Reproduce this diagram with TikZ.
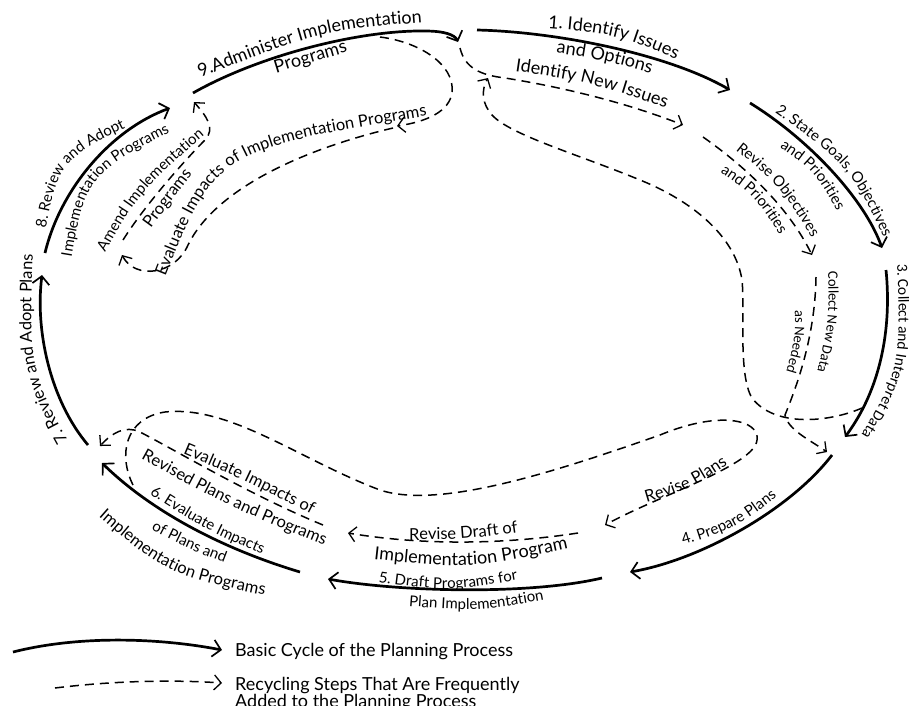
\documentclass[tikz,border=0pt]{standalone}
\usepackage{fontspec}
\setmainfont{Lato}
\newfontfamily\narrowfont{Carlito}
\usetikzlibrary{arrows.meta,calc,decorations.text}
\def\lblsmall{\fontsize{15}{15}\selectfont}
\def\lbl{\fontsize{16.5}{16.5}\selectfont}
\def\lblbig{\fontsize{18}{18}\selectfont}
\def\lblnarrow{\narrowfont\fontsize{14.5}{14.5}\selectfont}
\def\curvetext[#1](#2)(#3)(#4)#5{\path[decorate,decoration={text along path,text align=center,text={|#1|#5}}] ($(#2)!-20pt!(#3)$) .. controls (#3) .. ($(#4)!-20pt!(#3)$);}

\begin{document}
\begin{tikzpicture}[x=1pt,y=-1pt,
		basicarc/.style={line width=2.7pt,-{Straight Barb[length=8pt,width=17pt,line width=1.7pt]}},
		recyclearc/.style={line width=1.5pt,dash pattern=on 9pt off 6pt,-{Straight Barb[length=7pt,width=15pt,line width=1.3pt]}}]
	%%%%% START %%%%%
	\fill[white] (0,0) rectangle (909,705);
	\useasboundingbox (0,0) rectangle (909,705);

	% basic cycle
	\draw[basicarc] (193,93) .. controls (260,55) and (360,30) .. (425,31) .. controls (445,31) and (455,35) .. (458,42);
	\draw[basicarc] (477,30) .. controls (560,32) and (670,55) .. (730,90);
	\draw[basicarc] (750,103) .. controls (810,140) and (865,200) .. (882,248);
	\draw[basicarc] (886,270) .. controls (892,330) and (880,390) .. (845,437);
	\draw[basicarc] (832,455) .. controls (790,510) and (700,560) .. (630,572);
	\draw[basicarc] (602,578) .. controls (530,595) and (400,592) .. (328,579);
	\draw[basicarc] (300,572) .. controls (220,548) and (150,510) .. (102,463);
	\draw[basicarc] (88,445) .. controls (50,400) and (35,330) .. (42,275);
	\draw[basicarc] (45,253) .. controls (60,190) and (110,130) .. (170,108);

	% recycling steps
	\draw[recyclearc] (460,48) .. controls (465,68) and (480,75) .. (505,78) .. controls (580,90) and (640,108) .. (683,125);
	\draw[recyclearc] (703,137) .. controls (750,170) and (790,210) .. (812,255);
	\draw[recyclearc] (816,277) .. controls (815,340) and (795,390) .. (785,415) .. controls (788,430) and (810,440) .. (827,452);
	\draw[recyclearc] (862,408) .. controls (830,422) and (775,428) .. (752,398) .. controls (738,375) and (745,310) .. (742,280) .. controls (735,235) and (690,200) .. (640,180) .. controls (580,155) and (510,135) .. (492,115) .. controls (482,104) and (481,90) .. (488,78);
	\draw[recyclearc] (380,37) .. controls (420,42) and (455,65) .. (452,92) .. controls (450,112) and (425,122) .. (397,126);
	\draw[recyclearc] (393,128) .. controls (300,150) and (215,190) .. (188,245) .. controls (175,275) and (135,280) .. (122,255);
	\draw[recyclearc] (123,240) .. controls (145,205) and (185,160) .. (205,140) .. controls (216,128) and (206,116) .. (194,102);
	\draw[recyclearc] (133,485) .. controls (118,455) and (125,418) .. (165,412) .. controls (230,405) and (300,460) .. (380,490) .. controls (440,510) and (560,470) .. (660,435) .. controls (720,410) and (760,420) .. (757,440) .. controls (755,465) and (660,495) .. (605,525);
	\draw[recyclearc] (578,533) .. controls (500,545) and (420,545) .. (348,533);
	\draw[recyclearc] (323,525) .. controls (250,495) and (175,450) .. (140,432) .. controls (125,425) and (112,433) .. (100,446);

	% labels of the basic cycle
	\curvetext[\lblbig](195,80)(320,30)(428,22){9.Administer Implementation}
	\curvetext[\lblbig](270,75)(312,62)(354,50){Programs}
	\curvetext[\lblbig](546,28)(615,33)(678,60){1. Identify Issues}
	\curvetext[\lblbig](550,52)(605,60)(657,75){and Options}
	\curvetext[\lblsmall](774,112)(850,165)(884,238){2. State Goals, Objectives}
	\curvetext[\lblsmall](778,146)(815,170)(838,213){and Priorities}
	\curvetext[\narrowfont\fontsize{15.5}{15.5}\selectfont](897,262)(902,370)(860,437){3. Collect and Interpret Data}
	\curvetext[\lblsmall](676,547)(735,530)(783,492){4. Prepare Plans}
	\curvetext[\lblsmall](378,582)(450,592)(518,580){5. Draft Programs for}
	\curvetext[\lblsmall](405,606)(480,612)(548,599){Plan Implementation}
	\curvetext[\lblsmall](146,492)(205,530)(266,556){6. Evaluate Impacts}
	\curvetext[\lblsmall](146,527)(185,548)(230,565){of Plans and}
	\curvetext[\lbl](96,514)(165,575)(268,596){Implementation Programs}
	\curvetext[\lbl](70,445)(28,370)(33,250){7. Review and Adopt Plans}
	\curvetext[\lblsmall](46,228)(58,160)(125,128){8. Review and Adopt}
	\curvetext[\lblsmall](72,255)(85,175)(168,133){Implementation Programs}

	% labels of the recycling steps
	\curvetext[\lblbig](514,71)(590,82)(667,108){Identify New Issues}
	\curvetext[\lblsmall](738,152)(780,185)(810,235){Revise Objectives}
	\curvetext[\lblsmall](720,172)(755,195)(780,235){and Priorities}
	\curvetext[\lblnarrow](828,270)(830,320)(817,373){Collect New Data}
	\curvetext[\lblnarrow](795,310)(796,340)(786,372){as Needed}
	\curvetext[\lbl](644,503)(690,490)(730,463){Revise Plans}
	\curvetext[\lbl](407,540)(465,540)(520,532){Revise Draft of}
	\curvetext[\lblbig](372,559)(470,570)(570,548){Implementation Program}
	\curvetext[\lbl](172,449)(245,480)(322,520){Evaluate Impacts of}
	\curvetext[\lbl](140,458)(225,505)(325,546){Revised Plans and Programs}
	\curvetext[\lblsmall](104,254)(140,190)(206,134){Amend Implementation}
	\curvetext[\lbl](150,230)(172,200)(193,173){Programs}
	\curvetext[\lbl](168,270)(215,150)(420,117){Evaluate Impacts of Implementation Programs}

	% legend
	\draw[basicarc] (13,652) .. controls (80,635) and (160,638) .. (222,650);
	\draw[recyclearc] (55,688) .. controls (120,680) and (180,680) .. (222,683);
	\node[anchor=base west,font=\lblbig,inner sep=0pt] (basic) at (235,656) {Basic Cycle of the Planning Process};
	\node[anchor=base west,font=\lblbig,inner sep=0pt] (recycle) at (235,690) {Recycling Steps That Are Frequently};
	\node[anchor=base west,font=\lblbig,inner sep=0pt] (added) at (235,707) {Added to the Planning Process};
	%%%%% END %%%%%
\end{tikzpicture}
\end{document}
